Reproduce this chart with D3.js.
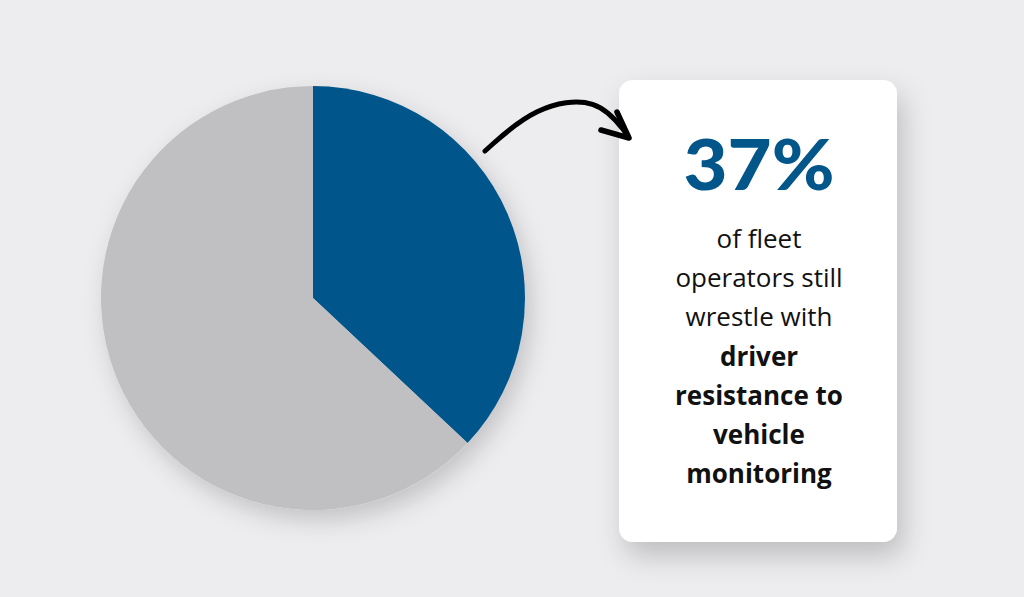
<!DOCTYPE html>
<html><head><meta charset="utf-8">
<script src="https://cdn.jsdelivr.net/npm/d3@7"></script>
<style>html,body{margin:0;padding:0;background:#ededef;}svg{display:block;}</style>
</head><body>
<script>
const categories = ["Struggle with driver resistance", "Other"];
const values = [37, 63];
const colors = ["#02568a", "#c0c0c2"];
const headline = "37%";
const normalLines = ["of fleet", "operators still", "wrestle with"];
const boldLines = ["driver", "resistance to", "vehicle", "monitoring"];

const W = 1024, H = 597;
const svg = d3.select("body").append("svg").attr("width", W).attr("height", H);
const defs = svg.append("defs");
const f1 = defs.append("filter").attr("id","pieShadow").attr("x","-30%").attr("y","-30%").attr("width","160%").attr("height","160%");
f1.append("feDropShadow").attr("dx",6).attr("dy",10).attr("stdDeviation",12).attr("flood-color","#000").attr("flood-opacity",0.18);
const f2 = defs.append("filter").attr("id","cardShadow").attr("x","-30%").attr("y","-30%").attr("width","160%").attr("height","160%");
f2.append("feDropShadow").attr("dx",6).attr("dy",14).attr("stdDeviation",14).attr("flood-color","#000").attr("flood-opacity",0.2);

svg.append("rect").attr("width",W).attr("height",H).attr("fill","#ededef");

const cx = 313, cy = 298, r = 212;
const pie = d3.pie().sort(null).value(d => d)(values);
const arc = d3.arc().innerRadius(0).outerRadius(r);
const g = svg.append("g").attr("transform",`translate(${cx},${cy})`).attr("filter","url(#pieShadow)");
g.selectAll("path").data(pie).join("path").attr("d",arc).attr("fill",(d,i)=>colors[i]);

// card
svg.append("rect").attr("x",619).attr("y",80).attr("width",278).attr("height",462).attr("rx",14)
  .attr("fill","#fff").attr("filter","url(#cardShadow)");

// arrow (on top of card)
const line = d3.line().curve(d3.curveBasis);
svg.append("path").attr("d", line([[485,151],[535,106],[598,96],[628,136]]))
  .attr("fill","none").attr("stroke","#000").attr("stroke-width",5).attr("stroke-linecap","round");
svg.append("path").attr("d", d3.line()([[617,112],[629,138],[601,130]]))
  .attr("fill","none").attr("stroke","#000").attr("stroke-width",5.5).attr("stroke-linecap","round").attr("stroke-linejoin","round");

const tx = 759;
svg.append("text").attr("x",tx).attr("y",190).attr("text-anchor","middle")
  .attr("font-family","Lato, 'Open Sans', sans-serif").attr("font-weight",900).attr("font-size",70)
  .attr("fill","#02568a").attr("textLength",151).attr("lengthAdjust","spacingAndGlyphs").text(headline);

const lines = normalLines.map(t=>({t,b:false})).concat(boldLines.map(t=>({t,b:true})));
svg.selectAll("text.body").data(lines).join("text").attr("class","body")
  .attr("x",tx).attr("y",(d,i)=>248+i*39.2).attr("text-anchor","middle")
  .attr("font-family","'Open Sans', sans-serif").attr("font-size",26)
  .attr("font-weight",d=>d.b?700:400).attr("fill","#111").text(d=>d.t);
</script>
</body></html>
